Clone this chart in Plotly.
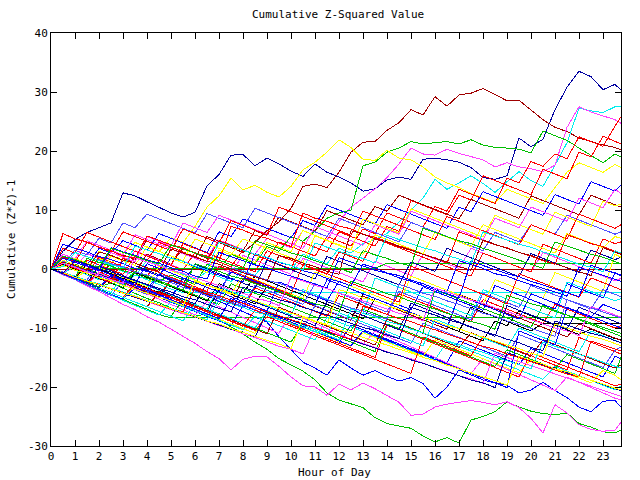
import plotly.graph_objects as go

# Hour grid (half-hour samples plus the final quarter hour)
hours = [i / 2 for i in range(48)] + [23.75]

s01 = [0, 3, 5, 6.2, 7, 7.8, 12.9, 12.4, 11.4, 10.5, 9.5, 8.8, 9.6, 14.1, 16, 19.3,
       19.4, 17.5, 18.8, 17.8, 16.6, 15.7, 17.8, 16.4, 15.6, 14.6, 13.2, 13.6, 15.1, 15.6, 15.2, 18.6,
       18.8, 18.5, 18.1, 17.2, 15.5, 15.2, 15.8, 22.2, 20.7, 22, 27, 30.8, 33.5, 32.6, 30.4, 31.3, 30.3]
s02 = [0, -0.8, 0.5, -0.5, -1.3, 1, 0.2, -0.6, 2.5, 1.7, 0.8, 3.5, 2.6, 1.8, 4.5, 3.6,
       2.8, 4.5, 6.5, 8, 10.3, 14, 14.4, 13.8, 16.4, 19.8, 21.5, 21.6, 23.5, 24.8, 27, 26.1,
       29.2, 27.6, 29.5, 29.8, 30.6, 29.6, 28.5, 28.6, 27, 25.3, 24, 23.3, 22.2, 21.6, 21, 20.6, 20.2]
s03 = [0, -0.6, -1.5, -2.2, -3, -2.4, -3.3, -4.1, -5, -5.7, -6.6, -7.3, -8, -7.6, -8.6, -9.8,
       -11, -12.4, -13.6, -15.2, -16.2, -17.3, -18.8, -21, -22.2, -22.8, -23.5, -25.2, -26.2, -26.6, -27, -28.3,
       -29.3, -28.6, -29.5, -25.6, -25, -24.2, -22.5, -23.4, -24.1, -24.5, -24.7, -24.4, -26.2, -26.8, -27.6, -27.8, -27.3]
s04 = [0, -1, -1.8, -2.9, -3.8, -4.9, -6, -6.9, -8.1, -9, -10.2, -11.3, -12.6, -14, -15.2, -17.1,
       -15.3, -14.8, -14.9, -16.5, -18.3, -19.8, -20, -21.4, -19.5, -20.5, -19.3, -20.3, -21.5, -22.6, -24.8, -24.6,
       -23.4, -22.9, -22.6, -22.3, -22.6, -23, -22.5, -23.5, -25.3, -27.8, -23, -24.4, -26.4, -27.2, -27.5, -27.3, -26]
s05 = [0, -0.7, -1.5, 0.8, 0, -0.9, -1.8, -2.6, -3.4, -1, -2, -2.8, -3.7, -4.6, -5.5, -6.3,
       -7.2, -8.1, -9, -11.5, -13.6, -15.8, -16.8, -18, -15.4, -16.8, -18, -17.2, -18.2, -19, -18.4, -19.4,
       -21.9, -20, -17.1, -17.9, -18.8, -19.3, -19.7, -21, -20.5, -19.2, -20.6, -21.8, -23.4, -24.2, -22.4, -22.3, -23.4]
s06 = [0, 0.7, -0.2, -1, -1.8, 0.4, -0.4, -1.2, 1.5, 0.7, -0.1, -0.9, -1.7, -0.5, -1.3, -2.1,
       -0.3, -1.1, 1.5, 0.7, -0.1, 2.5, 1.7, 0.9, 3.5, 2.7, 4.3, 5, 6, 8, 10, 12,
       15.2, 13.5, 14.6, 15.8, 14.5, 13, 14.8, 16.5, 15, 14, 17.6, 21.4, 27.3, 26.8, 26.5, 27.5, 27.5]
s07 = [0, 1.2, 0.4, 2.6, 1.8, 1, 0.2, 3.1, 2.3, 1.5, 0.7, -0.1, 2.8, 2, 4.9, 4.1,
       3.3, 2.5, 5.2, 4.4, 3.6, 6.5, 5.7, 4.9, 8, 10.5, 12, 13.6, 15.5, 17.8, 20.5, 19.5,
       19.3, 20.3, 19.6, 19, 18.5, 17.3, 18, 17.3, 17, 16.5, 17.6, 24, 27.5, 26.6, 26, 25.3, 24.7]
s08 = [0, -0.6, 0.8, 0, -0.8, -1.6, -2.4, -0.5, -1.3, -2.1, -1, -1.8, -2.6, 0.8, 0, 2.5,
       1.7, 0.9, 3.8, 3, 5.5, 4.7, 6.5, 8.6, 9.5, 10, 17.5, 18.1, 19.8, 20.5, 21.6, 21.2,
       21.4, 21.6, 21.2, 21.9, 21, 20.6, 20.5, 20.3, 19.7, 23.4, 22.6, 21.8, 20.5, 19.3, 18, 19.5, 19]
s09 = [0, 1.2, 0.4, -0.4, 1.8, 1, 2.6, 4.5, 3.7, 2.9, 5.3, 4.5, 7.2, 10.5, 12.4, 15.4,
       13.4, 14.2, 13, 12.2, 14, 16.8, 18.1, 19.8, 21.9, 20.6, 18.6, 18.4, 20.1, 18.8, 18.5, 17.3,
       15.6, 14.6, 13.8, 12.8, 12, 11.2, 13.5, 12.7, 11.9, 11.1, 13.8, 16.4, 18, 17.2, 16.4, 17.7, 17.2]
s10 = [0, 0.9, 0.1, -0.7, 2, 1.2, 0.4, -0.4, -1.2, 1.4, 0.6, -0.2, 2.8, 2, 1.2, 0.4,
       3.2, 2.4, 1.6, 4.6, 3.8, 3, 2.2, 5.5, 4.7, 3.9, 6.8, 6, 9.5, 8.7, 7.9, 7.1,
       10.6, 9.8, 13.5, 12.7, 11.9, 11.1, 15.4, 14.6, 18.2, 17.4, 19.5, 18.7, 22.4, 21.6, 20.8, 24.2, 25.8]
s11 = [0, -0.8, -1.6, 1.5, 0.7, -0.1, -0.9, 2.2, 1.4, 4.5, 3.7, 2.9, 2.1, 1.3, 4.8, 4,
       3.2, 2.4, 1.6, 0.8, 0, 4.5, 3.7, 2.9, 6.3, 5.5, 4.7, 3.9, 7.2, 6.4, 11.6, 10.8,
       10, 9.2, 12.5, 11.7, 15.8, 15, 14.2, 13.4, 12.6, 16.9, 16.1, 15.3, 19.8, 19, 22.5, 21.7, 21.2]
s12 = [0, 2.5, 1.7, 0.9, 0.1, 3.2, 2.4, 1.6, 5, 4.2, 3.4, 2.6, 1.8, 5.5, 4.7, 3.9,
       3.1, 6.5, 5.7, 8.8, 8, 7.2, 6.4, 9.9, 9.1, 8.3, 7.5, 10.6, 9.8, 12.5, 11.7, 10.9,
       10.1, 9.3, 8.5, 11.8, 11, 10.2, 9.4, 8.6, 12.4, 11.6, 10.8, 10, 9.2, 12.5, 11.7, 10.9, 10.5]
s13 = [0, -0.7, 1.5, 0.7, 3.5, 2.7, 4.8, 4, 3.2, 6, 5.2, 4.4, 3.6, 2.8, 6.3, 5.5,
       8.5, 7.7, 6.9, 6.1, 5.3, 8.2, 7.4, 10.8, 10, 9.2, 8.4, 7.6, 10.9, 10.1, 9.3, 8.5,
       7.7, 6.9, 10.5, 9.7, 13.1, 12.3, 11.5, 10.7, 9.9, 9.1, 12.6, 11.8, 11, 14.8, 14, 13.2, 14.2]
s14 = [0, 0.8, 3.2, 2.4, 5.2, 4.4, 7.8, 7, 9.3, 8.5, 7.7, 6.9, 6.1, 9.4, 8.6, 7.8,
       7, 10.3, 9.5, 8.7, 7.9, 7.1, 6.3, 5.5, 8.6, 7.8, 7, 6.2, 5.4, 4.6, 7.9, 7.1,
       6.3, 5.5, 4.7, 3.9, 3.1, 6.2, 5.4, 4.6, 7.5, 6.7, 5.9, 9.1, 8.3, 7.5, 6.7, 5.9, 6.3]
s15 = [0, -0.8, -1.6, -0.2, -1, 2.2, 1.4, 0.6, -0.2, -1, 1.8, 1, 0.2, -0.6, 3.2, 2.4,
       5.1, 4.3, 3.5, 2.7, 1.9, 1.1, 5.6, 4.8, 4, 3.2, 8.5, 7.7, 6.9, 6.1, 10.2, 9.4,
       8.6, 7.8, 7, 6.2, 5.4, 9.1, 8.3, 7.5, 6.7, 5.9, 9.6, 8.8, 8, 7.2, 11.5, 10.7, 11]
s16 = [0, 2.5, 1.7, 4.8, 4, 3.2, 2.4, 5.8, 5, 4.2, 3.4, 2.6, 1.8, 1, 0.2, -0.6,
       2.3, 1.5, 0.7, -0.1, -0.9, 1.8, 1, 0.2, -0.6, -1.4, -2.2, 1.3, 0.5, -0.3, -1.1, 2.5,
       1.7, 0.9, 0.1, 3.5, 2.7, 1.9, 1.1, 0.3, -0.5, 2.8, 2, 1.2, 0.4, -0.4, -1.2, -2, -1.6]
s17 = [0, -0.8, -1.6, -2.4, -0.5, -1.3, -2.1, -2.9, -3.7, -4.5, -1.8, -2.6, -3.4, -4.2, -5, -5.8,
       -6.6, -3.2, -4, -4.8, -5.6, -6.4, -7.2, -8, -4.5, -5.3, -6.1, -6.9, -7.7, -4.2, -5, -5.8,
       -6.6, -7.4, -8.2, -9, -5.2, -6, -6.8, -7.6, -8.4, -9.2, -6, -6.8, -7.6, -8.4, -9.2, -10, -9.6]
s18 = [0, -0.9, -1.7, -2.6, -3.4, -4.3, -5.1, -6, -6.8, -7.7, -8.3, -8.3, -8.3, -8.3, -8.3, -8.3,
       -8.3, -8.3, -8.3, -8.3, -8.3, -8.3, -8.3, -8.3, -8.3, -8.3, -8.3, -8.3, -8.3, -8.3, -8.3, -8.3,
       -8.3, -8.3, -8.3, -8.3, -8.3, -8.3, -8.3, -8.3, -8.3, -8.3, -8.3, -8.3, -8.3, -8.3, -8.3, -8.3, -8.3]
s19 = [0, 0, 0, 0, 0, 0, 0, 0, 0, 0, 0, 0, 0, 0, 0, 0,
       0, 0, 0, 0, 0, 0, 0, 0, 0, 0, 0, 0, 0, 0, 0, 0,
       0, 0, 0, 0, 0, 0, 0, 0, 0, 0, 0, 0, 0, 0, 0, 0, 0]
s20 = [0, 0.6, 0.1, 0.1, 0.1, 0.1, 0.1, 0.1, 0.1, 0.1, 0.1, 0.1, 0.1, 0.1, 0.1, 0.1,
       0.1, 0.1, 0.1, 0.1, 0.1, 0.1, 0.1, 0.1, 0.1, 0.1, 0.1, 0.1, 1, 1, 1, 1,
       1, 1, 1, 1, 1, 1, 1, 1, 1, 1, 1, 1, 1, 1, 1, 1, 1]
s21 = [0, -0.8, 0.5, -0.3, -1.1, -1.9, -2.7, -1, -1.8, -2.6, -3.4, -4, -4, -4, -4, -4,
       -4, -4, -4, -4, -4, -4, -4, -4, -4, -4, -4, -4, -4, -4, -4, -4,
       -4, -4, -4, -4, -4, -4, -4, -4, -4, -4, -4, -4, -4, -4, -4, -4, -4]
s22 = [0, -0.8, -1.6, 0.8, 0, -0.8, -1.6, -2.4, -3.2, -4, -4.8, -5.6, -6.4, -7.2, -3.5, -4.3,
       -5.1, -5.9, -3, -3.8, -4.6, -5.4, -6.2, -7, -7.8, -8.6, -4.2, -5, -5.8, -6.6, -7.4, -8.2,
       -9, -9.8, -10.6, -6.5, -7.3, -8.1, -8.9, -9.7, -10.5, -9.2, -9.2, -9.2, -9.2, -9.2, -9.2, -9.2, -9.2]
s23 = [0, 0.8, 0, -0.8, -1.6, -2.4, -3.2, -0.6, -1.4, -2.2, -3, -3.8, -4.6, -5.4, -2.5, -3.3,
       -4.1, -1.2, -2, -2.8, -3.6, -4.4, -5.2, -6, -6.8, -7.6, -8.4, -5, -5.8, -6.6, -7.4, -8.2,
       -9, -9.8, -10.6, -11.4, -12.2, -8.8, -9.6, -7.1, -7.9, -8.7, -9.5, -10.3, -11.1, -10.2, -11, -11.8, -12]
s24 = [0, -0.8, -1.6, -2.4, -3.2, -1, -1.8, -2.6, -3.4, -4.2, -5, -1.5, -2.3, -3.1, -3.9, -4.7,
       -5.5, -6.3, -7.1, -2.2, -3, -3.8, -4.6, -5.4, -2.1, -2.9, -3.7, -4.5, -5.3, -6.1, -6.9, -3,
       -3.8, -4.6, -5.4, -6.2, -7, -2.8, -3.6, -4.4, -5.2, -6, -6.8, -2.5, -3.3, -4.1, -4.9, -0.6, -1.2]
s25 = [0, -0.9, -1.8, -2.7, -3.5, -4.3, -5.1, -3.2, -4, -4.8, -5.6, -6.4, -7.2, -8, -8.8, -9.6,
       -6.2, -7, -7.8, -8.6, -9.4, -10.2, -11, -11.8, -12.6, -9.5, -10.3, -11.1, -11.9, -12.7, -13.5, -14.3,
       -15.1, -15.9, -12.2, -13, -13.8, -14.6, -15.4, -16.2, -13.5, -14.3, -15.1, -15.9, -16.7, -17.5, -18.3, -14.8, -15.2]
s26 = [0, 1.5, 0.7, -0.1, -0.9, -1.7, 1.4, 0.6, -0.2, -1, -1.8, -2.6, 0.8, 0, -0.8, -1.6,
       -2.4, -3.2, 1.5, 0.7, -0.1, -0.9, -1.7, 2.1, 1.3, 0.5, -0.3, -1.1, -1.9, -2.7, 1.2, 0.4,
       -0.4, 3.5, 2.7, 1.9, 1.1, 0.3, -0.5, -1.3, 2.6, 1.8, 1, 0.2, -0.6, 3.2, 2.4, 1.6, 2]
s27 = [0, -0.9, -1.8, -2.7, -3.6, -4.5, -5.4, -6.2, -7, -7.8, -5.5, -6.3, -7.1, -7.9, -8.7, -9.5,
       -10.3, -8, -8.8, -9.6, -10.4, -11.2, -12, -8.2, -9, -9.8, -10.6, -11.4, -12.2, -13, -13.8, -14.6,
       -15.4, -12.3, -13.1, -13.9, -14.7, -15.5, -16.3, -17.1, -17.9, -18.7, -16.5, -17.3, -18.1, -18.9, -19.7, -20.5, -19.8]
s28 = [0, -0.9, -1.8, -2.7, -0.6, -1.5, -2.4, -3.3, -4.2, -5.1, -6, -6.9, -7.8, -5.5, -6.4, -7.3,
       -8.2, -9.1, -10, -10.9, -7.4, -8.3, -9.2, -10.1, -11, -11.9, -12.8, -10.5, -11.4, -12.3, -13.2, -14.1,
       -15, -15.9, -16.8, -17.7, -15.2, -16.1, -17, -17.9, -18.8, -19.7, -20.6, -18.3, -19.2, -20.1, -21, -21.9, -22.2]
s29 = [0, -0.8, -1.6, -2.4, -3.2, -4, -4.8, -2.9, -3.7, -4.5, -5.3, -6.1, -6.9, -7.7, -8.5, -9.3,
       -10.1, -10.9, -7.5, -8.3, -9.1, -9.9, -10.7, -11.5, -12.3, -13.1, -10.8, -11.6, -12.4, -13.2, -14, -14.8,
       -12, -12.8, -13.6, -14.4, -15.2, -16, -16.8, -17.6, -15.3, -16.1, -16.9, -17.7, -18.5, -19.3, -17.2, -18, -18.8]
s30 = [0, -0.8, -1.6, -2.4, -3.2, -4, -4.8, -5.6, -6.4, -4, -4.8, -5.6, -6.4, -7.2, -8, -8.8,
       -9.6, -10.4, -8.1, -8.9, -9.7, -10.5, -11.3, -12.1, -12.9, -13.7, -14.5, -15.3, -16.1, -16.9, -17.7, -11.5,
       -12.3, -13.1, -13.9, -14.7, -11.5, -12.3, -13.1, -13.9, -14.7, -15.5, -16.3, -17.1, -11.6, -12.4, -13.2, -14, -14.4]
s31 = [0, 3.5, 2.7, 6.2, 5.4, 4.6, 3.8, 3, 2.2, 1.4, 0.6, 4.3, 3.5, 2.7, 1.9, 1.1,
       0.3, -0.5, 3.1, 2.3, 1.5, 0.7, -0.1, -0.9, 2.9, 2.1, 1.3, 5.2, 4.4, 3.6, 2.8, 2,
       1.2, 0.4, -0.4, -1.2, 2.7, 1.9, 1.1, 0.3, -0.5, 4.2, 3.4, 2.6, 1.8, 1, 5.1, 4.3, 4.6]
s32 = [0, -0.8, -1.6, -2.4, -3.2, -1.5, -2.3, -3.1, -3.9, -4.7, -1.9, -2.7, -3.5, -4.3, -5.1, -5.9,
       -1.5, -2.3, -3.1, -3.9, -4.7, -5.5, -6.3, -7.1, -7.9, -8.7, -4.6, -5.4, -6.2, -7, -7.8, -8.6,
       -9.4, -10.2, -4.3, -5.1, -5.9, -6.7, -7.5, -8.3, -9.1, -9.9, -10.7, -11.5, -9.3, -10.1, -10.9, -11.7, -12.1]
s33 = [0, -0.9, -1.8, -2.7, -3.6, -4.5, -2.1, -2.9, -3.7, -4.5, -5.3, -6.1, -6.9, -7.7, -4.5, -5.3,
       -6.1, -6.9, -7.7, -8.5, -9.3, -10.1, -6.2, -7, -7.8, -8.6, -9.4, -10.2, -11, -11.8, -12.6, -9.2,
       -10, -10.8, -11.6, -12.4, -13.2, -14, -14.8, -11.1, -11.9, -12.7, -13.5, -14.3, -15.1, -15.9, -16.7, -13.8, -13.2]
s34 = [0, 0.9, 0.1, -0.7, -1.5, -2.3, -3.1, -0.4, -1.2, -2, -2.8, -3.6, -4.4, -5.2, -6, -2.5,
       -3.3, -4.1, -4.9, -5.7, -6.5, -7.3, -8.1, -8.9, -9.7, -10.5, -6.8, -7.6, -8.4, -9.2, -10, -10.8,
       -3.5, -4.3, -5.1, -5.9, -6.7, -7.5, -8.3, -9.1, -9.9, -6.2, -7, -7.8, -8.6, -9.4, -10.2, -11, -11.4]
s35 = [0, -0.8, -1.6, -2.4, -3.2, -4, -4.8, -5.6, -6.4, -7.2, -8, -5.2, -6, -6.8, -7.6, -8.4,
       -9.2, -10, -10.8, -11.6, -12.4, -9.2, -10, -10.8, -11.6, -12.4, -13.2, -14, -9.3, -10.1, -10.9, -11.7,
       -12.5, -13.3, -14.1, -14.9, -15.7, -16.5, -13.7, -14.5, -15.3, -16.1, -16.9, -14.5, -15.3, -16.1, -16.9, -17.7, -15]
s36 = [0, -0.8, -1.6, -2.4, -3.2, -4, -1.2, -2, -2.8, -3.6, -4.4, -5.2, -6, -6.8, -3, -3.8,
       -4.6, -5.4, -6.2, -7, -7.8, -3.5, -4.3, -5.1, -5.9, -6.7, -7.5, -1.5, -2.3, -3.1, -3.9, -4.7,
       -5.5, -6.3, -7.1, -7.9, -3.5, -4.3, -5.1, -5.9, -6.7, -7.5, -8.3, -2.2, -3, -3.8, -4.6, -5.4, -5]
s37 = [0, -0.8, 1.8, 1, 0.2, -0.6, -1.4, -2.2, -3, 0.5, -0.3, -1.1, -1.9, -2.7, -3.5, -4.3,
       -1, -1.8, -2.6, -3.4, -4.2, -5, -0.5, -1.3, -2.1, -2.9, -3.7, -4.5, -5.3, -6.1, -1.2, -2,
       -2.8, -3.6, -4.4, -5.2, -6, -1.8, -2.6, -3.4, -4.2, -5, -0.6, -1.4, -2.2, -3, -3.8, 2.5, 2]
s38 = [0, 2.2, 1.4, 0.6, -0.2, -1, -1.8, -2.6, 0.9, 0.1, -0.7, -1.5, -2.3, -3.1, -3.9, -0.5,
       -1.3, -2.1, -2.9, -3.7, -4.5, -5.3, -6.1, -1.8, -2.6, -3.4, -4.2, -5, -5.8, -6.6, -7.4, -8.2,
       -9, -9.8, -4.5, -5.3, -6.1, -6.9, -7.7, -8.5, -4.2, -5, -5.8, -6.6, -7.4, -8.2, -6, -6.8, -7.2]
s39 = [0, -0.8, -1.6, -2.4, -3.2, -4, -4.8, -2.5, -3.3, -4.1, -4.9, -5.7, -6.5, -7.3, -8.1, -8.9,
       -9.7, -7, -7.8, -8.6, -9.4, -10.2, -11, -11.8, -12.6, -13.4, -14.2, -15, -9.5, -10.3, -11.1, -11.9,
       -12.7, -13.5, -14.3, -15.1, -15.9, -16.7, -17.5, -18.3, -14.2, -15, -15.8, -16.6, -17.4, -18.2, -19, -19.8, -19.5]
s40 = [0, -0.8, 1.2, 0.4, -0.4, 2.8, 2, 1.2, 5.5, 4.7, 3.9, 7.8, 7, 6.2, 9.1, 8.3,
       7.5, 6.7, 5.9, 5.1, 4.3, 3.5, 7.2, 6.4, 5.6, 4.8, 4, 7.5, 6.7, 5.9, 9.8, 9,
       8.2, 7.4, 6.6, 5.8, 5, 8.6, 7.8, 7, 10.5, 9.7, 8.9, 8.1, 12, 11.2, 10.4, 13.5, 12.8]
s41 = [0, -0.8, -1.6, -2.4, 0.5, -0.3, -1.1, -1.9, -2.7, -3.5, -4.3, -5.1, -5.9, -2.4, -3.2, -4,
       -4.8, -5.6, -6.4, -7.2, -8, -8.8, -9.6, -5.5, -6.3, -7.1, -7.9, -8.7, -9.5, -10.3, -5.8, -6.6,
       -7.4, -8.2, -9, -9.8, -10.6, -11.4, -6.2, -7, -7.8, -8.6, -9.4, -10.2, -6.5, -7.3, -8.1, -8.9, -9.3]
s42 = [0, 1.3, 0.5, -0.3, -1.1, -1.9, -2.7, -3.5, -4.3, -0.8, -1.6, -2.4, -3.2, -4, -4.8, -5.6,
       -6.4, -2.8, -3.6, -4.4, -5.2, -6, -2.5, -3.3, -4.1, -4.9, -5.7, -6.5, -7.3, -3.8, -4.6, -5.4,
       -6.2, -7, -7.8, -8.6, -4.1, -4.9, -5.7, -6.5, -2.8, -3.6, -4.4, -5.2, -6, -6.8, -3.5, -4.3, -4.7]
s43 = [0, 2, 1.2, 4.5, 3.7, 2.9, 6.3, 5.5, 4.7, 3.9, 3.1, 6.8, 6, 5.2, 4.4, 8.2,
       7.4, 6.6, 5.8, 10.5, 9.7, 8.9, 8.1, 7.3, 6.5, 5.7, 9.8, 9, 8.2, 7.4, 6.6, 5.8,
       5, 8.9, 8.1, 7.3, 6.5, 5.7, 4.9, 4.1, 7.5, 6.7, 5.9, 5.1, 9.3, 8.5, 7.7, 6.9, 7.5]
s44 = [0, -0.8, -1.6, -2.4, -3.2, -4, -4.8, -5.6, -6.4, -3.8, -4.6, -5.4, -6.2, -7, -7.8, -8.6,
       -9.4, -10.2, -11, -6.5, -7.3, -8.1, -8.9, -9.7, -10.5, -11.3, -12.1, -12.9, -8.5, -9.3, -10.1, -10.9,
       -11.7, -12.5, -13.3, -10.8, -11.6, -12.4, -13.2, -14, -14.8, -12, -12.8, -13.6, -14.4, -15.2, -16, -16.8, -16.3]
s45 = [0, 1.5, 0.7, -0.1, 3, 2.2, 1.4, 0.6, 3.8, 3, 2.2, 1.4, 5.1, 4.3, 3.5, 2.7,
       1.9, 1.1, 4.5, 3.7, 2.9, 6.5, 5.7, 4.9, 4.1, 3.3, 2.5, 5.8, 5, 4.2, 3.4, 2.6,
       6.2, 5.4, 4.6, 3.8, 7.5, 6.7, 5.9, 5.1, 4.3, 3.5, 2.7, 6, 5.2, 4.4, 3.6, 5.5, 5.2]
s46 = [0, -0.8, -1.6, -2.4, -3.2, -4, -4.8, -5.6, -6.4, -7.2, -8, -8.8, -6, -6.8, -7.6, -8.4,
       -9.2, -10, -7.1, -7.9, -8.7, -9.5, -10.3, -11.1, -7.4, -8.2, -9, -9.8, -10.6, -11.4, -12.2, -13,
       -8.5, -9.3, -10.1, -10.9, -11.7, -12.5, -13.3, -10, -10.8, -11.6, -12.4, -13.2, -14, -10.5, -11.3, -12.1, -12.5]
s47 = [0, -0.8, -1.6, -2.4, -3.2, -1.2, -2, -2.8, -3.6, -4.4, -5.2, -6, -6.8, -7.6, -8.4, -5,
       -5.8, -6.6, -7.4, -8.2, -9, -9.8, -10.6, -11.4, -12.2, -13, -10.5, -11.3, -12.1, -12.9, -13.7, -14.5,
       -15.3, -16.1, -16.9, -17.7, -18.5, -19.3, -20.1, -10.5, -11.3, -12.1, -12.9, -6.5, -7.3, -8.1, -8.9, -9.7, -10]
s48 = [0, 0.9, 0.1, -0.7, -1.5, -2.3, 1.8, 1, 0.2, -0.6, -1.4, -2.2, -3, -3.8, 0.5, -0.3,
       -1.1, -1.9, -2.7, -3.5, -4.3, 0.8, 0, -0.8, -1.6, -2.4, -3.2, -4, -4.8, -5.6, 0.5, -0.3,
       -1.1, -1.9, -2.7, -3.5, -4.3, -5.1, -5.9, -0.8, -1.6, -2.4, -3.2, -4, -4.8, -1.5, -2.3, -3.1, -3.5]
s49 = [0, 4.2, 3.5, 2.9, 2.1, 1.6, 0.9, 0.1, -0.4, -1.2, 1.9, 1.3, 0.4, -0.3, -0.9, -1.7,
       -2.2, 2.6, 1.9, 1.1, 0.6, -0.3, -0.8, -1.6, -2.1, -2.9, 0.8, 0.2, -0.7, -1.1, -1.9, -2.5,
       -3.3, -3.8, 1.4, 0.7, 0.1, -0.8, -1.2, -2, -2.6, -3.3, -3.9, -4.6, 0.3, -0.4, -1.1, -1.8, -2.1]
s50 = [0, 6, 5.1, 4.6, 3.7, 3.1, 2.2, 1.8, 5.6, 4.9, 4.1, 3.6, 2.7, 2.2, 1.3, 7.2,
       6.6, 5.7, 5.2, 4.4, 3.8, 9.5, 8.6, 8.1, 7.3, 6.8, 5.9, 5.4, 4.6, 3.9, 3.3, 2.5,
       1.9, 1, 6.3, 5.6, 4.9, 4.1, 3.6, 2.8, 2.2, 1.4, 0.8, 5.8, 5.1, 4.3, 3.8, 3, 2.6]
s51 = [0, -0.5, -1.4, -1.9, 1.6, 0.9, 0.4, -0.5, -1, -1.8, -2.3, -3.1, -3.7, -4.5, -5, 0.2,
       -0.4, -1.1, -1.9, -2.4, -3.2, -3.8, -4.5, -5.2, -5.8, -6.6, -7.1, -7.9, -8.5, -2.6, -3.3, -4.1,
       -4.6, -5.4, -6, -6.7, -7.5, -8, -8.8, -9.4, -10.1, -10.8, -11.4, -5.2, -5.9, -6.6, -7.2, -8, -8.3]
s52 = [0, -0.6, -1.3, -2.1, -2.6, -3.4, -4.1, -4.7, -5.5, -6.1, -6.8, -7.6, -8.1, -8.9, -9.6, -10.2,
       -11, -11.6, -12.3, -13.1, -13.6, -14.4, -9.8, -10.5, -11.2, -11.8, -12.6, -13.2, -13.9, -14.7, -15.2, -16,
       -16.7, -17.3, -18.1, -18.6, -19.4, -14.3, -15, -15.7, -16.4, -17, -17.8, -18.5, -19.1, -19.9, -20.5, -21.2, -21.6]
s53 = [0, -0.7, -1.2, -2, -2.5, -3.3, -3.9, -4.6, -5.3, -5.9, -6.7, -7.2, -8, -8.6, -5.2, -5.9,
       -6.5, -7.3, -7.8, -8.6, -9.2, -9.9, -10.6, -11.2, -12, -6.8, -7.5, -8.1, -8.9, -9.4, -10.2, -10.8,
       -11.5, -12.2, -12.8, -13.6, -14.1, -14.9, -15.5, -16.2, -16.9, -12.4, -13.1, -13.7, -14.5, -15, -15.8, -16.4, -16.8]
s54 = [0, 1.2, 0.6, -0.2, 2.9, 2.3, 1.5, 1, 0.2, -0.4, 3.4, 2.7, 2.1, 1.3, 0.8, 0,
       -0.6, -1.3, -2, 2.3, 1.8, 1, 0.4, -0.4, -0.9, 6.5, 5.9, 5.1, 4.6, 3.8, 3.2, 2.5,
       1.8, 1.2, 0.4, -0.2, 4.9, 4.2, 3.6, 2.8, 2.3, 1.5, 0.9, 0.2, -0.5, -1.1, 3.6, 2.9, 2.5]
s55 = [0, -0.6, -1.4, 1.8, 1.1, 0.5, -0.3, -0.8, -1.6, -2.2, -2.9, -3.6, 0.9, 0.2, -0.4, -1.2,
       -1.7, -2.5, -3.1, -3.8, -4.5, -5.1, -5.9, -6.4, -7.2, -2.1, -2.8, -3.4, -4.2, -4.7, -5.5, -6.1,
       -6.8, -7.5, -8.1, -8.9, -9.4, -10.2, -4.5, -5.1, -5.9, -6.4, -7.2, -7.8, -8.5, -9.2, -9.8, -10.6, -10.9]
s56 = [0, 0.6, -0.2, -0.7, -1.5, -2, -2.8, -3.4, -4.1, -4.8, -5.4, -6.2, -2.1, -2.8, -3.3, -4.1,
       -4.7, -5.4, -6.1, -6.7, -7.5, -8, -8.8, -9.4, -3.5, -4.1, -4.9, -5.4, -6.2, -6.8, -7.5, -8.2,
       -8.8, -9.6, -10.1, -10.9, -11.5, -12.2, -12.9, -13.5, -14.3, -14.8, -9.3, -10, -10.6, -11.4, -11.9, -12.7, -13]
s57 = [0, -0.8, -1.3, -2.1, -2.7, -3.4, -4.1, -4.7, -5.5, -6, -6.8, -7.4, -8.1, -8.8, -9.4, -10.2,
       -10.7, -11.5, -7.3, -8, -8.6, -9.4, -9.9, -10.7, -11.3, -12, -12.7, -13.3, -14.1, -14.6, -15.4, -16,
       -16.7, -17.4, -18, -18.8, -19.3, -20.1, -14.2, -14.9, -15.5, -16.3, -16.8, -17.6, -18.2, -18.9, -19.6, -20.2, -20.6]
s58 = [0, 1.8, 1.1, 0.5, -0.3, 3.6, 2.9, 2.3, 1.5, 1, 0.2, -0.4, -1.2, -1.7, 2.8, 2.1,
       1.5, 0.7, 0.2, -0.6, -1.2, -1.9, -2.6, -3.2, 1.9, 1.2, 0.6, -0.2, -0.7, -1.5, -2.1, -2.8,
       -3.5, -4.1, -4.9, 1.3, 0.6, 0, -0.8, -1.3, -2.1, -2.7, -3.4, -4.1, -4.7, 0.6, -0.1, -0.7, -1]
s59 = [0, 1, 0.3, -0.5, -1, -1.8, -2.4, 1.9, 1.2, 0.6, -0.2, -0.7, -1.5, -2.1, -2.8, -3.5,
       -4.1, -4.9, -5.4, -6.2, -1.4, -2, -2.8, -3.3, -4.1, -4.7, -5.4, -6.1, -6.7, -7.5, -8, -8.8,
       -3.2, -3.9, -4.5, -5.3, -5.8, -6.6, -7.2, -7.9, -8.6, -9.2, -10, -10.5, -11.3, -6.4, -7, -7.8, -8.1]
s60 = [0, 0.4, 2.8, 2.1, 1.5, 0.7, 0.2, 3.9, 3.2, 2.6, 1.8, 1.3, 0.5, -0.1, 4.6, 3.9,
       3.3, 2.5, 2, 1.2, 0.6, -0.2, 4.4, 3.7, 3.1, 2.3, 1.8, 1, 5.7, 5, 4.4, 3.6,
       3.1, 2.3, 1.7, 1, 6.3, 5.6, 5, 4.2, 3.7, 2.9, 2.3, 1.6, 0.8, 0.3, -0.5, 3.1, 2.7]
s61 = [0, -0.7, -1.3, -2.1, -2.6, -3.4, -4, -4.7, -5.4, -6, -6.8, -7.3, -3.2, -3.9, -4.5, -5.3,
       -5.8, -6.6, -7.2, -7.9, -8.6, -9.2, -10, -10.5, -11.3, -11.9, -6.3, -7, -7.6, -8.4, -8.9, -9.7,
       -10.3, -11, -11.7, -12.3, -13.1, -13.6, -14.4, -15, -15.7, -16.4, -17, -17.8, -18.3, -12.2, -12.9, -13.5, -13.9]
s62 = [0, 2.2, 1.6, 0.8, 0.3, 3.5, 2.8, 2.2, 1.4, 0.9, 4.1, 3.4, 2.8, 2, 1.5, 0.7,
       0.1, 4.8, 4.1, 3.5, 2.7, 2.2, 1.4, 0.8, 0.1, -0.6, 3.1, 2.4, 1.8, 1, 0.5, 6.9,
       6.2, 5.6, 4.8, 4.3, 3.5, 2.9, 2.2, 1.5, 0.9, 0.1, 4.6, 3.9, 3.3, 2.5, 2, 1.2, 0.9]
s63 = [0, -0.6, -1.4, -2, -2.7, -3.3, -4.1, -4.6, -5.4, -6, -6.7, -7.4, -8, -8.8, -9.3, -10.1,
       -10.7, -11.4, -12.1, -12.7, -13.5, -8.2, -8.9, -9.5, -10.3, -10.8, -11.6, -12.2, -12.9, -13.6, -14.2, -15,
       -15.5, -16.3, -16.9, -17.6, -18.3, -18.9, -19.7, -14.8, -15.5, -16.1, -16.9, -17.4, -18.2, -18.8, -19.5, -20.2, -20.5]
s64 = [0, -0.7, 1.4, 0.8, 0, -0.5, -1.3, -1.9, -2.6, -3.3, -3.9, -4.7, -5.2, -6, -6.6, -7.3,
       -3.1, -3.8, -4.4, -5.2, -5.7, -6.5, -7.1, -7.8, -8.5, -9.1, -9.9, -10.4, -11.2, -11.8, -6.5, -7.2,
       -7.8, -8.6, -9.1, -9.9, -10.5, -11.2, -11.9, -12.5, -13.3, -13.8, -8.8, -9.5, -10.1, -10.9, -11.4, -12.2, -12.5]

series = [s01, s02, s03, s04, s05, s06, s07, s08, s09, s10, s11, s12, s13, s14, s15, s16,
          s17, s18, s19, s20, s21, s22, s23, s24, s25, s26, s27, s28, s29, s30, s31, s32,
          s33, s34, s35, s36, s37, s38, s39, s40, s41, s42, s43, s44, s45, s46, s47, s48,
          s49, s50, s51, s52, s53, s54, s55, s56, s57, s58, s59, s60, s61, s62, s63, s64]

x_ticks = list(range(24))
y_ticks = [-30, -20, -10, 0, 10, 20, 30, 40]

# Styles
RED, GREEN, BLUE, MAG, CYAN = "#ff0000", "#00c000", "#0000ff", "#ff40ff", "#00eeee"
DRED, YEL, DBLUE, LBLUE, BLACK = "#a00000", "#ffff00", "#0000a0", "#5050ff", "#000000"
colors = [DBLUE, DRED, GREEN, MAG, BLUE, CYAN, MAG, GREEN, YEL, RED, RED, DRED, BLUE, LBLUE, YEL, MAG,
          RED, GREEN, DRED, GREEN, CYAN, BLACK, BLACK, BLUE, BLUE, DBLUE, CYAN, MAG, YEL, RED, RED, DRED,
          LBLUE, GREEN, GREEN, CYAN, YEL, BLUE, RED, MAG, DBLUE, LBLUE, RED, DRED, YEL, CYAN, BLUE, RED,
          BLUE, RED, LBLUE, MAG, CYAN, DRED, GREEN, YEL, DBLUE, BLUE, MAG, CYAN, RED, GREEN, YEL, DBLUE]

FONT = "DejaVu Sans Mono"

fig = go.Figure()
for vals, col in zip(series, colors):
    fig.add_trace(go.Scatter(x=hours[:len(vals)], y=vals, mode="lines",
                             line=dict(color=col, width=1), hoverinfo="skip",
                             showlegend=False))

axis_common = dict(showline=True, linecolor="black", linewidth=1, mirror="ticks",
                   ticks="inside", ticklen=6, tickcolor="black", tickwidth=1,
                   showgrid=False, zeroline=False,
                   tickfont=dict(family=FONT, size=11, color="black"))

fig.update_xaxes(range=[0, 23.75], tickmode="array", tickvals=x_ticks,
                 ticktext=[str(t) for t in x_ticks], **axis_common)
fig.update_yaxes(range=[-30, 40], tickmode="array", tickvals=y_ticks,
                 ticktext=[str(t) for t in y_ticks], **axis_common)

fig.update_layout(
    width=640, height=480,
    margin=dict(l=51, r=19, t=33, b=34, pad=0),
    paper_bgcolor="white", plot_bgcolor="white",
    font=dict(family=FONT, size=11, color="black"),
    annotations=[
        dict(text="Cumulative Z-Squared Value", x=0.5035, y=1.0436, xref="paper", yref="paper",
             xanchor="center", yanchor="middle", showarrow=False,
             font=dict(family=FONT, size=11, color="black")),
        dict(text="Hour of Day", x=0.4965, y=-0.063, xref="paper", yref="paper",
             xanchor="center", yanchor="middle", showarrow=False,
             font=dict(family=FONT, size=11, color="black")),
        dict(text="Cumulative (Z*Z)-1", x=-0.0684, y=0.499, xref="paper", yref="paper",
             xanchor="center", yanchor="middle", showarrow=False, textangle=-90,
             font=dict(family=FONT, size=11, color="black")),
    ],
)

crisp = ("document.querySelectorAll('.scatterlayer path.js-line').forEach("
         "function(p){p.style.shapeRendering='crispEdges';});")
fig.write_html("out.html", post_script=crisp)
